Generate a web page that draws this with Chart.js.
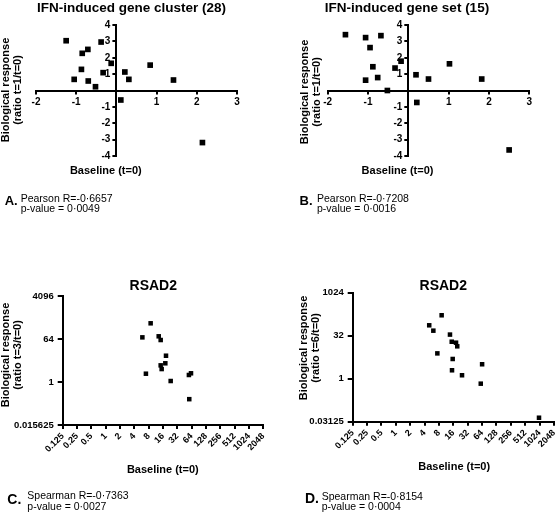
<!DOCTYPE html>
<html><head><meta charset="utf-8">
<script src="https://cdn.jsdelivr.net/npm/chart.js@4"></script>
<style>
html,body{margin:0;padding:0;background:#fff;}
#wrap{position:relative;width:558px;height:515px;overflow:hidden;font-family:"Liberation Sans",Arial,Helvetica,sans-serif;color:#000;background:#fff;}
canvas{position:absolute;}
.t{position:absolute;white-space:nowrap;line-height:1;}
.b{font-weight:bold;}
.c{transform:translateX(-50%);}
.yt{position:absolute;font-weight:bold;font-size:11px;line-height:12px;text-align:center;white-space:nowrap;transform:translate(-50%,-50%) rotate(-90deg);}
</style></head><body>
<div id="wrap">
<canvas id="cAy" width="280" height="185" style="left:0;top:0;"></canvas>
<canvas id="cAx" width="280" height="185" style="left:0;top:0;"></canvas>
<canvas id="cA" width="280" height="185" style="left:0;top:0;"></canvas>
<canvas id="cBy" width="278" height="185" style="left:280px;top:0;"></canvas>
<canvas id="cBx" width="278" height="185" style="left:280px;top:0;"></canvas>
<canvas id="cB" width="278" height="185" style="left:280px;top:0;"></canvas>
<canvas id="cC" width="280" height="260" style="left:0;top:255px;"></canvas>
<canvas id="cD" width="278" height="260" style="left:280px;top:255px;"></canvas>

<div class="t b c" style="left:131.5px;top:1px;font-size:13.5px;">IFN-induced gene cluster (28)</div>
<div class="t b c" style="left:407px;top:1px;font-size:13.5px;">IFN-induced gene set (15)</div>
<div class="t b c" style="left:153.3px;top:277.5px;font-size:14px;">RSAD2</div>
<div class="t b c" style="left:443.3px;top:277.5px;font-size:14px;">RSAD2</div>

<div class="yt" style="left:11px;top:90px;">Biological response<br>(ratio t=1/t=0)</div>
<div class="yt" style="left:309.5px;top:92px;">Biological response<br>(ratio t=1/t=0)</div>
<div class="yt" style="left:11px;top:355px;">Biological response<br>(ratio t=3/t=0)</div>
<div class="yt" style="left:309px;top:348px;">Biological response<br>(ratio t=6/t=0)</div>

<div class="t b c" style="left:105.8px;top:164.7px;font-size:11px;">Baseline (t=0)</div>
<div class="t b c" style="left:397.5px;top:164.7px;font-size:11px;">Baseline (t=0)</div>
<div class="t b c" style="left:162.8px;top:464px;font-size:11px;">Baseline (t=0)</div>
<div class="t b c" style="left:454.2px;top:460.7px;font-size:11px;">Baseline (t=0)</div>

<div class="t b" style="left:4.7px;top:194px;font-size:13px;">A.</div>
<div class="t" style="left:20.7px;top:193.4px;font-size:10.5px;">Pearson R=-0·6657</div>
<div class="t" style="left:20.7px;top:202.6px;font-size:10.5px;">p-value = 0·0049</div>

<div class="t b" style="left:299.5px;top:193.5px;font-size:13px;">B.</div>
<div class="t" style="left:317px;top:193.4px;font-size:10.5px;">Pearson R=-0·7208</div>
<div class="t" style="left:317px;top:202.6px;font-size:10.5px;">p-value = 0·0016</div>

<div class="t b" style="left:7.3px;top:492px;font-size:14px;">C.</div>
<div class="t" style="left:27.3px;top:490.4px;font-size:10.5px;">Spearman R=-0·7363</div>
<div class="t" style="left:27.3px;top:501px;font-size:10.5px;">p-value = 0·0027</div>

<div class="t b" style="left:305px;top:490.9px;font-size:14px;">D.</div>
<div class="t" style="left:321.7px;top:491.1px;font-size:10.5px;">Spearman R=-0·8154</div>
<div class="t" style="left:321.7px;top:501px;font-size:10.5px;">p-value = 0·0004</div>
</div>

<script>
// ---- Data ----
const aX = [-1.25,-1.05,-0.87,-0.85,-0.71,-0.70,-0.52,-0.38,-0.33,-0.13,0.11,0.21,0.31,0.84,1.42,2.14];
const aY = [3.04,0.68,1.29,2.27,2.51,0.58,0.23,2.96,1.09,1.66,-0.58,1.13,0.68,1.55,0.64,-3.18];

const bX = [-1.56,-1.06,-0.68,-0.95,-0.88,-1.06,-0.76,-0.52,-0.33,-0.18,0.19,0.50,1.02,1.82,0.21,2.50];
const bY = [3.41,3.23,3.35,2.62,1.45,0.63,0.79,0.00,1.37,1.79,0.96,0.70,1.63,0.70,-0.73,-3.63];

const cX = [8.8,5.9,13.0,14.3,18.5,17.9,14.3,15.0,7.0,23.2,56,62,57];
const cY = [292,75,83,58,12.7,6.1,5.0,3.5,2.23,1.10,1.97,2.32,0.19];

const dX = [9.1,5.0,6.1,13.6,14.8,18.2,19.3,7.4,15.5,64,15.0,24.3,60,994];
const dY = [166,74,48,35,19.7,18.2,13.6,7.7,4.9,3.2,1.97,1.32,0.67,0.043];

// tick values / labels
const linXTicks = [-2,-1,0,1,2,3];
const linXLabels = ['-2','-1','','1','2','3'];
const linYTicks = [-4,-3,-2,-1,0,1,2,3,4];
const linYLabels = ['-4','-3','-2','-1','','1','2','3','4'];

const logXTicks = [0.125,0.25,0.5,1,2,4,8,16,32,64,128,256,512,1024,2048];
const logXLabels = ['0.125','0.25','0.5','1','2','4','8','16','32','64','128','256','512','1024','2048'];
const cYTicks = [0.015625,1,64,4096];
const cYLabels = ['0.015625','1','64','4096'];
const dYTicks = [0.03125,1,32,1024];
const dYLabels = ['0.03125','1','32','1024'];

// ---- Helpers ----
const FONT = "'Liberation Sans', Arial, Helvetica, sans-serif";
const zip = (xs, ys) => xs.map((x, i) => ({x, y: ys[i]}));

function gridOpts(tl){
  return {display:true, drawOnChartArea:false, drawTicks:true, tickLength:tl, color:'#000', lineWidth:2};
}
function hiddenLin(min, max, pos){
  return {type:'linear', min, max, position:pos, display:false};
}
// Visible linear axis placed on a chart-area edge (used to build the zero-crossing axes)
function edgeLin(vals, labels, pos, min, max){
  const isX = pos === 'bottom';
  const o = {
    type:'linear', min, max, position: pos,
    afterBuildTicks: s => { s.ticks = vals.map(v => ({value: v})); },
    ticks:{autoSkip:false, color:'#000', padding:2, maxRotation:0, minRotation:0,
      font:{family:FONT, size:10, weight:'bold'}, callback:(v,i)=>labels[i]},
    grid: gridOpts(4),
    border:{display:true, color:'#000', width:2}
  };
  if (isX) o.afterFit = s => { s.height = 20; s.paddingLeft = 0; s.paddingRight = 0; };
  else o.afterFit = s => { s.width = 30; s.paddingTop = 0; s.paddingBottom = 0; };
  return o;
}
function logScale(vals, labels, pos, isX){
  const o = {
    type:'logarithmic', min: vals[0], max: vals[vals.length-1], position: pos,
    afterBuildTicks: s => { s.ticks = vals.map(v => ({value: v})); },
    ticks:{autoSkip:false, color:'#000', padding: isX ? 2 : 4,
      font:{family:FONT, size: isX ? 9 : 9.5, weight:'bold'}, callback:(v,i)=>labels[i]},
    grid: gridOpts(isX ? 4 : 5),
    border:{display:true, color:'#000', width:2}
  };
  if (isX) {
    o.ticks.minRotation = 45; o.ticks.maxRotation = 45;
    o.afterFit = s => { s.height = 40; s.paddingLeft = 0; s.paddingRight = 0; };
  } else {
    o.afterFit = s => { s.width = 50; s.paddingTop = 0; s.paddingBottom = 0; };
  }
  return o;
}
function ds(data, r){
  return {data, pointStyle:'rect', pointRadius:r, pointHoverRadius:r, backgroundColor:'#000',
    borderWidth:0, showLine:false, clip:false};
}
function make(id, datasets, scales, padding){
  new Chart(document.getElementById(id), {
    type:'scatter',
    data:{datasets},
    options:{
      responsive:false, animation:false, devicePixelRatio:1,
      layout:{padding},
      plugins:{legend:{display:false}, tooltip:{enabled:false}, title:{display:false}},
      events:[],
      scales
    }
  });
}
const xMin = linXTicks[0], xMax = linXTicks[linXTicks.length-1];
const yMin = linYTicks[0], yMax = linYTicks[linYTicks.length-1];

// ---- Panel A: y axis at x=0 (chart area from x=0), x axis at y=0 (chart area down to y=0), points ----
make('cAy', [], {x: hiddenLin(0, xMax, 'bottom'), y: edgeLin(linYTicks, linYLabels, 'left', yMin, yMax)},
  {left:86.4, top:25, right:43, bottom:29});
make('cAx', [], {x: edgeLin(linXTicks, linXLabels, 'bottom', xMin, xMax), y: hiddenLin(0, yMax, 'left')},
  {left:36, top:25, right:43, bottom:74.5});
make('cA', [ds(zip(aX, aY), 4)], {x: hiddenLin(xMin, xMax, 'bottom'), y: hiddenLin(yMin, yMax, 'left')},
  {left:36, top:25, right:43, bottom:29});

// ---- Panel B ----
make('cBy', [], {x: hiddenLin(0, xMax, 'bottom'), y: edgeLin(linYTicks, linYLabels, 'left', yMin, yMax)},
  {left:98.3, top:25, right:28.7, bottom:29});
make('cBx', [], {x: edgeLin(linXTicks, linXLabels, 'bottom', xMin, xMax), y: hiddenLin(0, yMax, 'left')},
  {left:47.7, top:25, right:28.7, bottom:74.5});
make('cB', [ds(zip(bX, bY), 4)], {x: hiddenLin(xMin, xMax, 'bottom'), y: hiddenLin(yMin, yMax, 'left')},
  {left:47.7, top:25, right:28.7, bottom:29});

// ---- Panels C, D (log2 axes) ----
make('cC', [ds(zip(cX, cY), 3.2)],
  {x: logScale(logXTicks, logXLabels, 'bottom', true), y: logScale(cYTicks, cYLabels, 'left', false)},
  {left:12.7, top:41, right:16.7, bottom:50});
make('cD', [ds(zip(dX, dY), 3.2)],
  {x: logScale(logXTicks, logXLabels, 'bottom', true), y: logScale(dYTicks, dYLabels, 'left', false)},
  {left:22.7, top:37.7, right:4, bottom:53.3});
</script>
</body></html>
